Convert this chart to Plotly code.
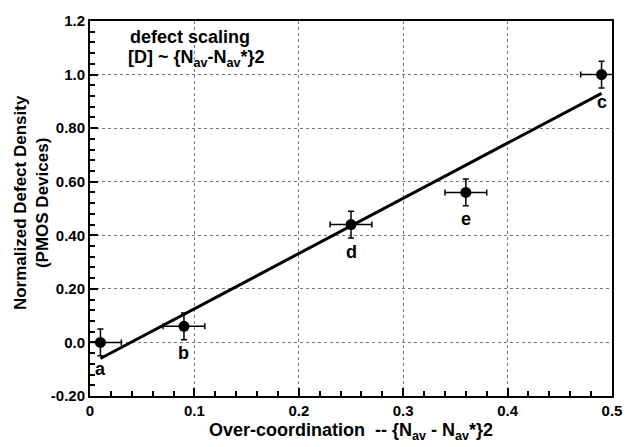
import plotly.graph_objects as go

# data
x_vals = [0.01, 0.09, 0.25, 0.36, 0.49]
y_vals = [0.0, 0.06, 0.44, 0.56, 1.0]
point_labels = ["a", "b", "d", "e", "c"]
x_err = [0.02, 0.02, 0.02, 0.02, 0.02]
y_err = [0.05, 0.05, 0.05, 0.05, 0.05]
fit_x = [0.01, 0.49]
fit_y = [-0.06, 0.93]
y_tickvals = [-0.2, 0.0, 0.2, 0.4, 0.6, 0.8, 1.0, 1.2]
y_ticktext = ["-0.20", "0.0", "0.20", "0.40", "0.60", "0.80", "1.0", "1.2"]
x_tickvals = [0, 0.1, 0.2, 0.3, 0.4, 0.5]
x_ticktext = ["0", "0.1", "0.2", "0.3", "0.4", "0.5"]

FONT = "Liberation Sans"

def bfont(size):
    return dict(family=FONT, size=size, color="black", weight="bold")

fig = go.Figure()

fig.add_trace(go.Scatter(
    x=fit_x, y=fit_y, mode="lines",
    line=dict(color="black", width=3), showlegend=False, hoverinfo="skip"))

fig.add_trace(go.Scatter(
    x=x_vals, y=y_vals, mode="markers",
    marker=dict(color="black", size=11),
    error_x=dict(type="data", array=x_err, color="black", thickness=1.5, width=3),
    error_y=dict(type="data", array=y_err, color="black", thickness=1.5, width=3),
    showlegend=False))

annotations = []
for xv, yv, lab in zip(x_vals, y_vals, point_labels):
    annotations.append(dict(
        x=xv, y=yv, xref="x", yref="y", text="<b>%s</b>" % lab, showarrow=False,
        yshift=-27, font=bfont(18)))

annotations.append(dict(
    x=(192 - 90) / 531, y=1 - (31 - 15) / 381, xref="paper", yref="paper",
    text="<b>defect scaling</b>", showarrow=False,
    font=bfont(18), xanchor="center", yanchor="middle"))
annotations.append(dict(
    x=(198 - 90) / 531, y=1 - (53 - 15) / 381, xref="paper", yref="paper",
    text="<b>[D] ~ {N<sub>av</sub>-N<sub>av</sub>*}2</b>", showarrow=False,
    font=bfont(18), xanchor="center", yanchor="middle"))
annotations.append(dict(
    x=(30 - 90) / 531, y=1 - (200 - 15) / 381, xref="paper", yref="paper",
    text="<b>Normalized Defect Density<br>(PMOS Devices)</b>", showarrow=False,
    textangle=-90, font=bfont(17),
    xanchor="center", yanchor="middle"))
annotations.append(dict(
    x=(355 - 90) / 531, y=-(432 - 396) / 381, xref="paper", yref="paper",
    text="<b>Over-coordination  -- {N<sub>av</sub> - N<sub>av</sub>*}2</b>", showarrow=False,
    font=bfont(18), xanchor="center", yanchor="middle"))

axis_common = dict(
    showline=True, linecolor="black", linewidth=2, mirror=True,
    showgrid=True, gridcolor="#777777", griddash="dot", gridwidth=1,
    zeroline=False, ticks="inside", ticklen=8, tickwidth=2, tickcolor="black",
    tickfont=bfont(15),
)

fig.update_xaxes(
    range=[0, 0.5], tickvals=x_tickvals, ticktext=["<b>%s</b>" % t for t in x_ticktext],
    minor=dict(dtick=0.02, tick0=0, ticks="inside", ticklen=5, tickwidth=2,
               tickcolor="black", showgrid=False),
    **axis_common)
fig.update_yaxes(
    range=[-0.2, 1.2], tickvals=y_tickvals, ticktext=["<b>%s</b>" % t for t in y_ticktext],
    minor=dict(dtick=0.04, tick0=-0.2, ticks="inside", ticklen=5, tickwidth=2,
               tickcolor="black", showgrid=False),
    **axis_common)

fig.update_layout(
    width=634, height=447,
    margin=dict(l=90, r=13, t=15, b=51),
    paper_bgcolor="white", plot_bgcolor="white",
    annotations=annotations,
    font=dict(family=FONT, color="black"),
)

fig.write_html("out.html")
